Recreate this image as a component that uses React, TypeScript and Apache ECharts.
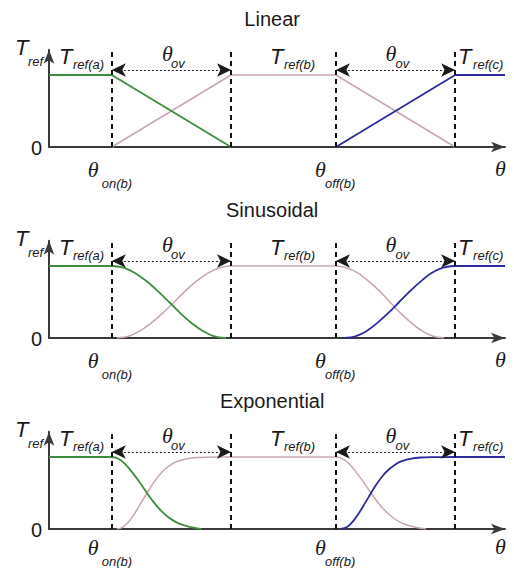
import React, { useEffect, useRef } from 'react';
import * as echarts from 'echarts';

// θ positions (arbitrary θ units along the horizontal axis)
const THETA_ON_B = 13.6;
const THETA_ON_END = 39.4;
const THETA_OFF_B = 62.1;
const THETA_OFF_END = 87.9;
const X_MAX = 98.7;
const Y_MAX = 1.35;
const ARROW_Y = 1.07;
const DASH_TOP = 1.35;
const TITLE_X = 48.3;

const panelTitles = ['Linear', 'Sinusoidal', 'Exponential'];

// Linear
const linGreen = [[0, 1], [13.6, 1], [39.4, 0]];
const linPink = [[13.6, 0], [39.4, 1], [62.1, 1], [87.9, 0]];
const linBlue = [[62.1, 0], [87.9, 1], [98.7, 1]];

// Sinusoidal
const sinGreen = [[0, 1], [13.6, 1], [16.1, 0.976], [18.5, 0.905], [21.0, 0.794], [23.5, 0.655], [26.0, 0.5], [28.4, 0.345], [30.9, 0.206], [33.4, 0.095], [35.8, 0.024], [38.3, 0]];
const sinPink = [[14.7, 0], [17.2, 0.024], [19.6, 0.095], [22.1, 0.206], [24.6, 0.345], [27.1, 0.5], [29.5, 0.655], [32.0, 0.794], [34.5, 0.905], [36.9, 0.976], [39.4, 1], [62.1, 1], [64.4, 0.976], [66.8, 0.905], [69.1, 0.794], [71.5, 0.655], [73.8, 0.5], [76.1, 0.345], [78.5, 0.206], [80.8, 0.095], [83.2, 0.024], [85.5, 0]];
const sinBlue = [[63.9, 0], [66.3, 0.024], [68.7, 0.095], [71.0, 0.206], [73.4, 0.345], [75.8, 0.5], [78.2, 0.655], [80.6, 0.794], [82.9, 0.905], [85.3, 0.976], [87.7, 1], [98.7, 1]];

// Exponential
const expGreen = [[0, 1], [13.6, 1], [15.1, 0.973], [16.6, 0.895], [18.1, 0.779], [19.7, 0.641], [21.2, 0.5], [22.7, 0.369], [24.2, 0.257], [25.7, 0.17], [27.2, 0.106], [28.8, 0.06], [30.4, 0.03], [32.0, 0.01], [33.0, 0]];
const expPink = [[14.7, 0], [16.0, 0.027], [17.3, 0.105], [18.6, 0.221], [19.9, 0.359], [21.2, 0.5], [22.5, 0.631], [23.8, 0.743], [25.1, 0.83], [26.4, 0.894], [27.7, 0.938], [29.9, 0.977], [32.0, 0.993], [34.2, 0.998], [39.4, 1], [62.1, 1], [63.6, 0.973], [65.1, 0.895], [66.6, 0.779], [68.2, 0.641], [69.7, 0.5], [71.2, 0.369], [72.7, 0.257], [74.2, 0.17], [75.7, 0.106], [77.3, 0.06], [78.9, 0.03], [80.5, 0.01], [81.6, 0]];
const expBlue = [[63.2, 0], [64.5, 0.027], [65.8, 0.105], [67.1, 0.221], [68.4, 0.359], [69.7, 0.5], [71.0, 0.631], [72.3, 0.743], [73.6, 0.83], [74.9, 0.894], [76.2, 0.938], [78.4, 0.977], [80.5, 0.993], [82.7, 0.998], [87.9, 1], [98.7, 1]];

const panelGreen = [linGreen, sinGreen, expGreen];
const panelPink = [linPink, sinPink, expPink];
const panelBlue = [linBlue, sinBlue, expBlue];
const panelSmooth = [false, 0.3, 0.3];

const GREEN = '#3f8c3f';
const PINK = '#c6a6b6';
const BLUE = '#2b2b9e';
const AXIS_COLOR = '#3a3a3a';
const TEXT = '#1a1a1a';
const SANS = '"Liberation Sans", Arial, sans-serif';
const SERIF = '"Liberation Serif", "Times New Roman", serif';

const GRID_BOTTOMS = [147, 338, 529];
const GRID_HEIGHT = 97.2;
const BOTTOM_SHIFT = [0, 0, -4];

export default function App() {
  const ref = useRef<HTMLDivElement>(null);
  useEffect(() => {
    const el = ref.current!;
    const chart = echarts.init(el, null, { renderer: 'svg' });
    const grids = GRID_BOTTOMS.map((b) => ({ left: 49, width: 456, top: b - GRID_HEIGHT, height: GRID_HEIGHT }));
    const axisBase = {
      axisTick: { show: false },
      axisLabel: { show: false },
      splitLine: { show: false },
    };
    const xAxis = grids.map((_, i) => ({
      type: 'value', gridIndex: i, min: 0, max: X_MAX, ...axisBase,
      axisLine: { show: true, onZero: false, lineStyle: { color: AXIS_COLOR, width: 2 }, symbol: ['none', 'arrow'], symbolSize: [8, 14] },
    }));
    const yAxis = grids.map((_, i) => ({
      type: 'value', gridIndex: i, min: 0, max: Y_MAX, ...axisBase,
      axisLine: { show: true, onZero: false, lineStyle: { color: AXIS_COLOR, width: 2 }, symbol: ['none', 'arrow'], symbolSize: [8, 14] },
    }));
    const series: any[] = [];
    grids.forEach((_, i) => {
      const common = { type: 'line', xAxisIndex: i, yAxisIndex: i, showSymbol: false, symbol: 'none', silent: true, smooth: panelSmooth[i] };
      const dash = (x: number) => [
        { coord: [x, 0], symbol: 'none', lineStyle: { type: [5, 4], color: '#111', width: 2 } },
        { coord: [x, DASH_TOP], symbol: 'none' },
      ];
      const dbl = (a: number, b: number) => [
        { coord: [a, ARROW_Y], symbol: 'arrow', lineStyle: { type: [2, 2], color: '#1a1a1a', width: 1 } },
        { coord: [b, ARROW_Y], symbol: 'arrow' },
      ];
      series.push({
        ...common, data: panelPink[i], lineStyle: { color: PINK, width: 1.5 }, z: 2,
        markLine: {
          silent: true, animation: false, label: { show: false }, symbolSize: [10, 14],
          data: [dash(THETA_ON_B), dash(THETA_ON_END), dash(THETA_OFF_B), dash(THETA_OFF_END), dbl(THETA_ON_B, THETA_ON_END), dbl(THETA_OFF_B, THETA_OFF_END)],
        },
      });
      series.push({ ...common, data: panelGreen[i], lineStyle: { color: GREEN, width: 1.8 }, z: 3 });
      series.push({ ...common, data: panelBlue[i], lineStyle: { color: BLUE, width: 1.8 }, z: 3 });
    });
    chart.setOption({ animation: false, grid: grids, xAxis, yAxis, series });

    const graphic: any[] = [];
    const txt = (x: number, y: number, text: string, size: number, family: string, italic: boolean, align = 'left') => ({
      type: 'text', x, y, silent: true, z: 10,
      style: { text, fontSize: size, fontFamily: family, fontStyle: italic ? 'italic' : 'normal', fill: TEXT, align, verticalAlign: 'middle' },
    });
    grids.forEach((_, i) => {
      const P = (x: number) => (chart.convertToPixel({ gridIndex: i }, [x, 0]) as number[]);
      const o = P(0);
      const oy = o[1];
      const by = oy + BOTTOM_SHIFT[i];
      // title
      graphic.push(txt(P(TITLE_X)[0], oy - 128.5, panelTitles[i], 20, SANS, false, 'center'));
      // y-axis name T_ref and 0
      graphic.push(txt(o[0] - 34, oy - 99.5, 'T', 22, SANS, true));
      graphic.push(txt(o[0] - 21, oy - 86, 'ref', 13, SANS, true));
      graphic.push(txt(o[0] - 7, oy + 1, '0', 20, SANS, false, 'right'));
      // T_ref(a)
      graphic.push(txt(o[0] + 10, oy - 90.5, 'T', 22, SANS, true));
      graphic.push(txt(o[0] + 24, oy - 82.5, 'ref(a)', 13, SANS, true));
      // θ_ov left
      const m1 = P((THETA_ON_B + THETA_ON_END) / 2)[0];
      graphic.push(txt(m1 - 9.5, oy - 94, 'θ', 22, SERIF, true));
      graphic.push(txt(m1 - 0.5, oy - 83.5, 'ov', 13, SANS, true));
      // T_ref(b)
      const e1 = P(THETA_ON_END)[0];
      graphic.push(txt(e1 + 39, oy - 90.5, 'T', 22, SANS, true));
      graphic.push(txt(e1 + 53, oy - 82.5, 'ref(b)', 13, SANS, true));
      // θ_ov right
      const m2 = P((THETA_OFF_B + THETA_OFF_END) / 2)[0];
      graphic.push(txt(m2 - 10, oy - 94, 'θ', 22, SERIF, true));
      graphic.push(txt(m2, oy - 83.5, 'ov', 13, SANS, true));
      // T_ref(c)
      const e2 = P(THETA_OFF_END)[0];
      graphic.push(txt(e2 + 3, oy - 90.5, 'T', 22, SANS, true));
      graphic.push(txt(e2 + 18, oy - 82.5, 'ref(c)', 13, SANS, true));
      // x-axis labels
      const on = P(THETA_ON_B)[0];
      graphic.push(txt(on - 24, by + 22.5, 'θ', 22, SERIF, true));
      graphic.push(txt(on - 10, by + 36, 'on(b)', 13, SANS, true));
      const off = P(THETA_OFF_B)[0];
      graphic.push(txt(off - 21, by + 22.5, 'θ', 22, SERIF, true));
      graphic.push(txt(off - 11, by + 36, 'off(b)', 13, SANS, true));
      const end = P(X_MAX)[0];
      graphic.push(txt(end - 10, by + 21.5, 'θ', 22, SERIF, true));
    });
    chart.setOption({ graphic });
    return () => chart.dispose();
  }, []);
  return <div ref={ref} style={{ position: 'fixed', left: 0, top: 0, width: 514, height: 568, background: '#fff' }} />;
}
